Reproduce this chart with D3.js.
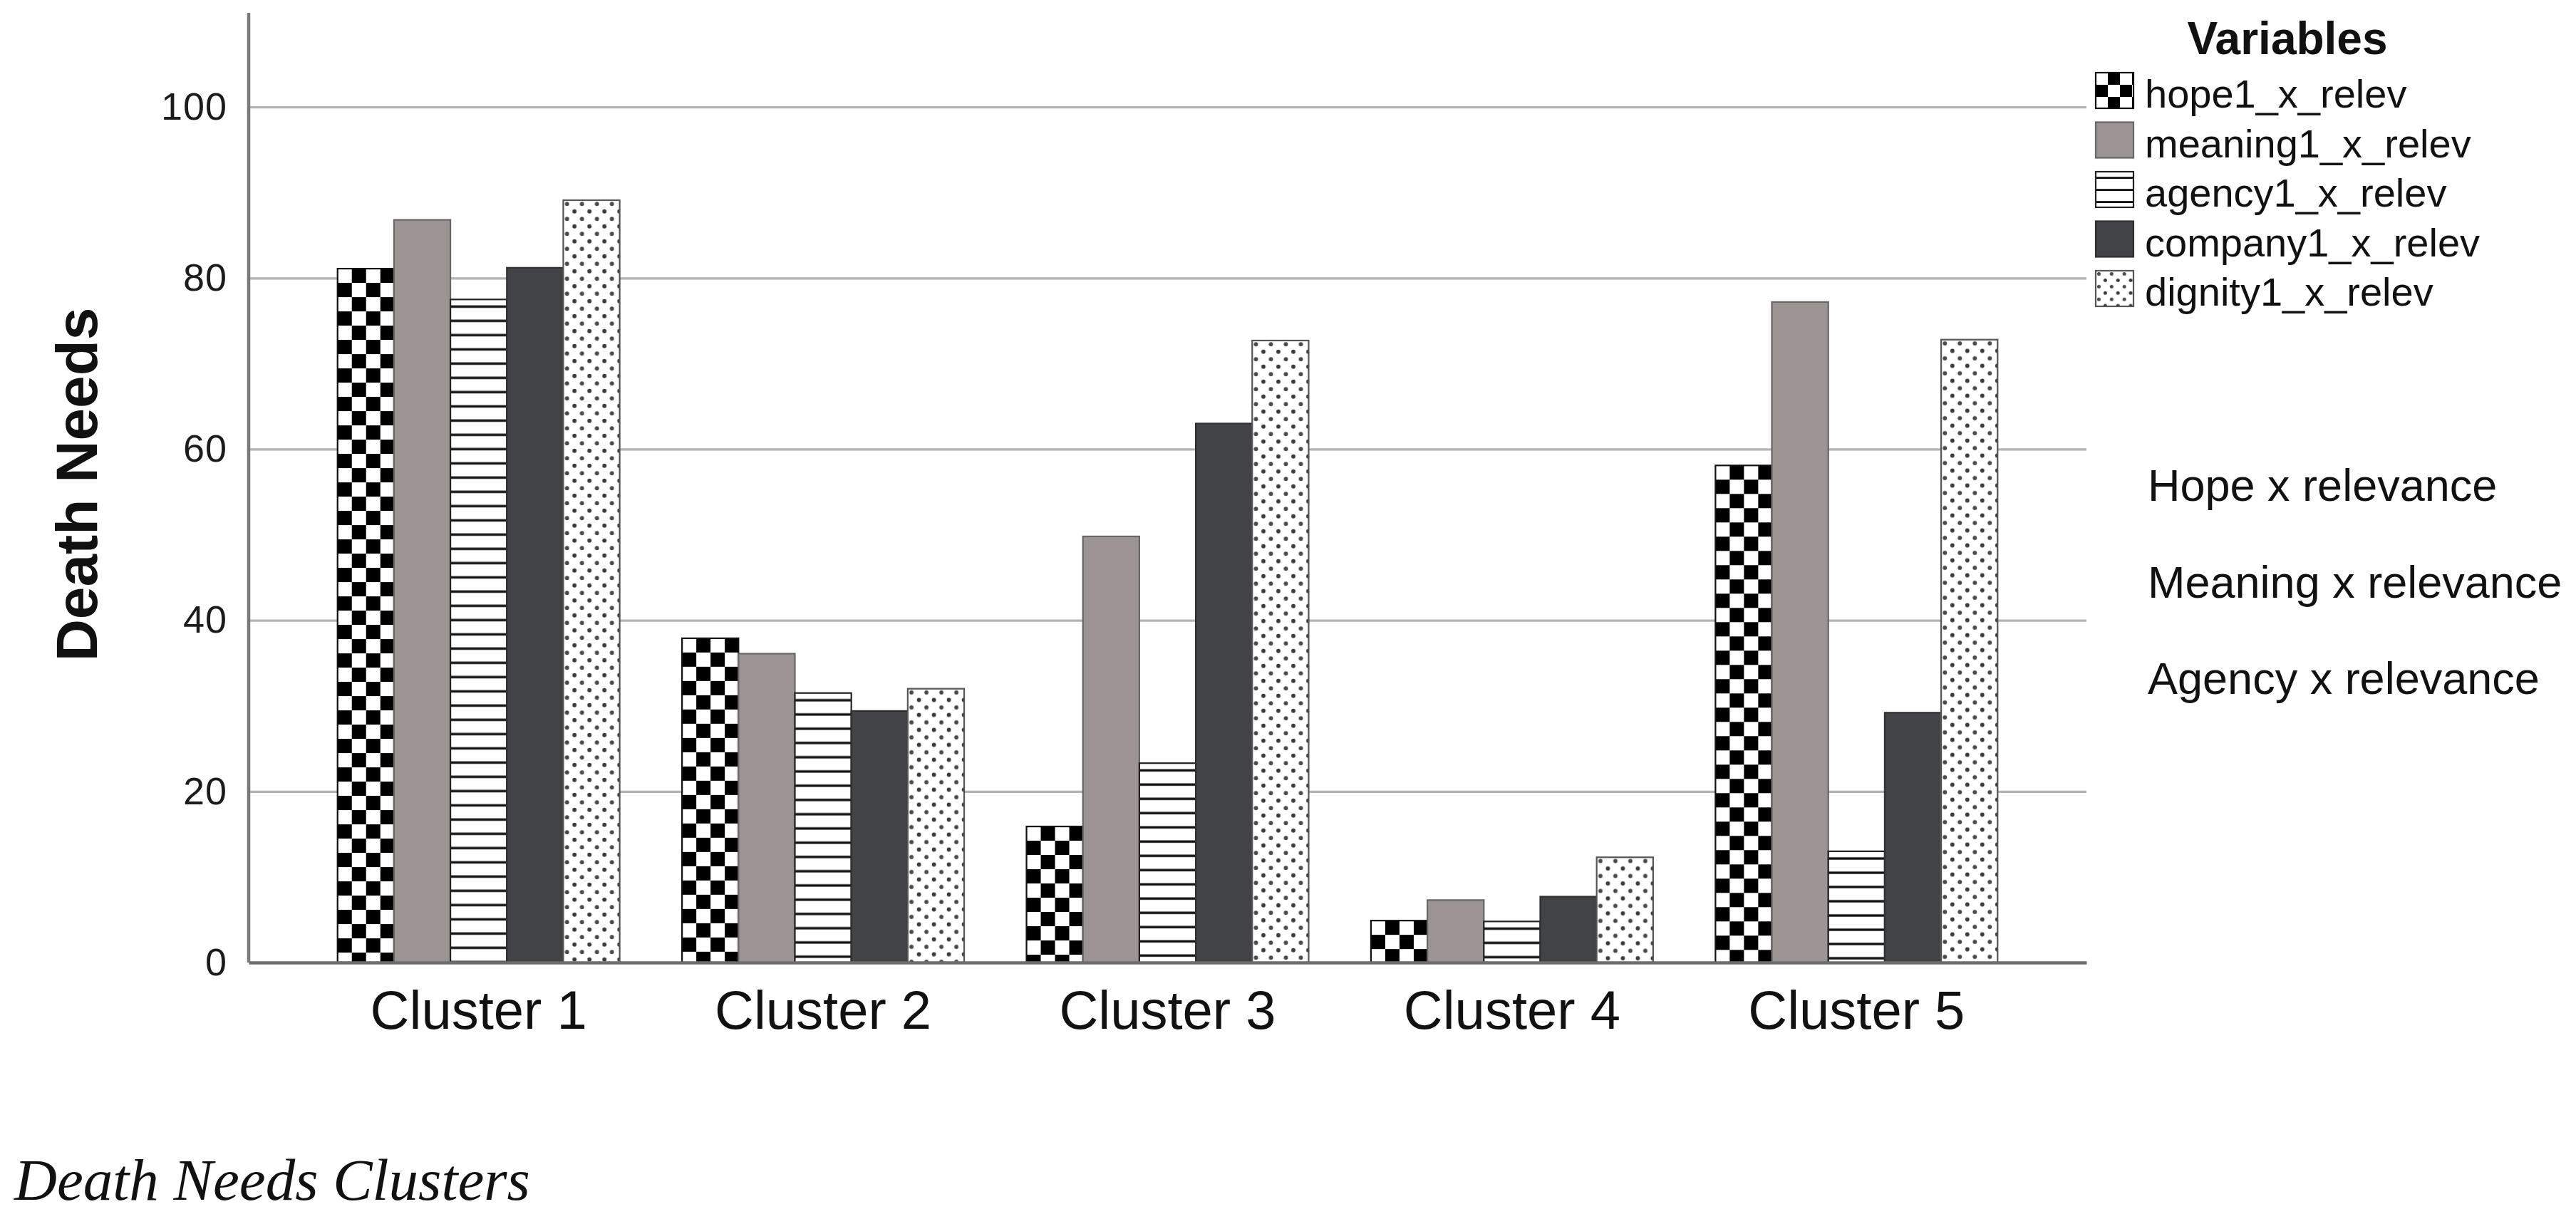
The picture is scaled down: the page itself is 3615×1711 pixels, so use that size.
<!DOCTYPE html>
<html>
<head>
<meta charset="utf-8">
<script src="https://cdn.jsdelivr.net/npm/d3@7"></script>
<style>
  html, body { margin: 0; padding: 0; background: #ffffff; }
  svg { display: block; }
</style>
</head>
<body>
<script>
// ---------- data ----------
const categories = ["Cluster 1", "Cluster 2", "Cluster 3", "Cluster 4", "Cluster 5"];
const seriesNames = ["hope1_x_relev", "meaning1_x_relev", "agency1_x_relev", "company1_x_relev", "dignity1_x_relev"];
const hope    = [81.1, 37.9, 15.9, 4.9, 58.1];
const meaning = [86.8, 36.1, 49.8, 7.3, 77.2];
const agency  = [77.5, 31.5, 23.3, 4.8, 13.0];
const company = [81.2, 29.4, 63.0, 7.7, 29.2];
const dignity = [89.1, 32.0, 72.7, 12.3, 72.8];
const yTicks = [0, 20, 40, 60, 80, 100];
const yMax = 111;
const legendTitle = "Variables";
const yTitle = "Death Needs";
const annotations = ["Hope x relevance", "Meaning x relevance", "Agency x relevance"];
const caption = "Death Needs Clusters";

const seriesValues = [hope, meaning, agency, company, dignity];
const table = categories.map((c, i) => ({
  category: c,
  values: seriesNames.map((s, j) => ({ series: s, idx: j, value: seriesValues[j][i] }))
}));

// ---------- layout ----------
const W = 3615, H = 1711;
const plot = { left: 349, right: 2928, top: 18, bottom: 1351 };

const svg = d3.select("body").append("svg")
  .attr("width", W).attr("height", H)
  .attr("viewBox", `0 0 ${W} ${H}`);
svg.append("rect").attr("width", W).attr("height", H).attr("fill", "#ffffff");

const defs = svg.append("defs");

function makePatterns(prefix, cell) {
  // checkerboard
  const ck = defs.append("pattern").attr("id", prefix + "checker")
    .attr("patternUnits", "userSpaceOnUse").attr("width", cell * 2).attr("height", cell * 2);
  ck.append("rect").attr("width", cell * 2).attr("height", cell * 2).attr("fill", "#ffffff");
  ck.append("rect").attr("x", cell).attr("y", 0).attr("width", cell).attr("height", cell).attr("fill", "#000000");
  ck.append("rect").attr("x", 0).attr("y", cell).attr("width", cell).attr("height", cell).attr("fill", "#000000");
  // horizontal lines
  const ln = defs.append("pattern").attr("id", prefix + "lines")
    .attr("patternUnits", "userSpaceOnUse").attr("width", cell).attr("height", cell);
  ln.append("rect").attr("width", cell).attr("height", cell).attr("fill", "#ffffff");
  ln.append("rect").attr("x", 0).attr("y", cell * 0.42).attr("width", cell).attr("height", Math.max(2.5, cell * 0.17)).attr("fill", "#111111");
  // dots
  const d = cell * 1.05;
  const dt = defs.append("pattern").attr("id", prefix + "dots")
    .attr("patternUnits", "userSpaceOnUse").attr("width", d).attr("height", d);
  dt.append("rect").attr("width", d).attr("height", d).attr("fill", "#ffffff");
  dt.append("circle").attr("cx", d * 0.25).attr("cy", d * 0.25).attr("r", d * 0.14).attr("fill", "#4a4a4a");
  dt.append("circle").attr("cx", d * 0.75).attr("cy", d * 0.75).attr("r", d * 0.14).attr("fill", "#3a3a3a");
}
makePatterns("bar-", 20);
makePatterns("leg-", 17);

const fills = (prefix) => [
  `url(#${prefix}checker)`, "#9b9493", `url(#${prefix}lines)`, "#414346", `url(#${prefix}dots)`
];
const strokes = ["#111111", "#6a6666", "#222222", "#2e3032", "#555555"];

// ---------- scales ----------
const x0 = d3.scaleBand().domain(categories)
  .range([plot.left, plot.right]).paddingInner(0.181).paddingOuter(0.258);
const x1 = d3.scaleBand().domain(seriesNames).range([0, x0.bandwidth()]).padding(0);
const y = d3.scaleLinear().domain([0, yMax]).range([plot.bottom, plot.top]);

// ---------- gridlines ----------
const grid = svg.append("g")
  .attr("transform", `translate(${plot.left},0)`)
  .call(d3.axisLeft(y).tickValues(yTicks.filter(t => t > 0)).tickSize(-(plot.right - plot.left)).tickFormat(""));
grid.select(".domain").remove();
grid.selectAll(".tick line").attr("stroke", "#b3b3b3").attr("stroke-width", 3.2);

// ---------- bars ----------
const groups = svg.append("g").selectAll("g.grp").data(table).join("g")
  .attr("class", "grp")
  .attr("transform", d => `translate(${x0(d.category)},0)`);

const barG = groups.selectAll("g.bar").data(d => d.values).join("g")
  .attr("class", "bar")
  .attr("transform", d => `translate(${x1(d.series)},${y(d.value)})`);
barG.append("rect")
  .attr("x", 0).attr("y", 0)
  .attr("width", x1.bandwidth())
  .attr("height", d => y(0) - y(d.value))
  .attr("fill", d => fills("bar-")[d.idx])
  .attr("stroke", d => strokes[d.idx])
  .attr("stroke-width", 2.2);

// ---------- axes ----------
const yAxis = svg.append("g")
  .attr("transform", `translate(${plot.left},0)`)
  .call(d3.axisLeft(y).tickValues(yTicks).tickSize(0).tickPadding(30).tickFormat(d3.format("d")));
yAxis.select(".domain").remove();
yAxis.selectAll(".tick text")
  .attr("font-family", "Liberation Sans, Arial, sans-serif")
  .attr("font-size", 54).attr("fill", "#1c1c1c")
  .attr("letter-spacing", 1);
svg.append("line")
  .attr("x1", plot.left).attr("x2", plot.left)
  .attr("y1", plot.top).attr("y2", plot.bottom)
  .attr("stroke", "#7a7a7a").attr("stroke-width", 4.5);

const xAxis = svg.append("g")
  .attr("transform", `translate(0,${plot.bottom})`)
  .call(d3.axisBottom(x0).tickSize(0).tickPadding(38));
xAxis.select(".domain").attr("stroke", "#6e6e6e").attr("stroke-width", 4.5);
xAxis.selectAll(".tick text")
  .attr("font-family", "Liberation Sans, Arial, sans-serif")
  .attr("font-size", 76).attr("fill", "#111111")
  .attr("dy", "0.72em");

// y title
svg.append("text")
  .attr("transform", `translate(136,680) rotate(-90)`)
  .attr("text-anchor", "middle")
  .attr("font-family", "Liberation Sans, Arial, sans-serif")
  .attr("font-weight", "bold").attr("font-size", 82).attr("fill", "#111111")
  .text(yTitle);

// ---------- legend ----------
const leg = svg.append("g");
leg.append("text")
  .attr("x", 3210).attr("y", 76)
  .attr("text-anchor", "middle")
  .attr("font-family", "Liberation Sans, Arial, sans-serif")
  .attr("font-weight", "bold").attr("font-size", 64).attr("fill", "#111111")
  .text(legendTitle);
const legItems = leg.selectAll("g.li").data(seriesNames).join("g")
  .attr("class", "li")
  .attr("transform", (d, i) => `translate(2941,${102 + i * 69.5})`);
legItems.append("rect")
  .attr("width", 53).attr("height", 50)
  .attr("fill", (d, i) => fills("leg-")[i])
  .attr("stroke", (d, i) => strokes[i]).attr("stroke-width", 2.2);
legItems.append("text")
  .attr("x", 69).attr("y", 49)
  .attr("font-family", "Liberation Sans, Arial, sans-serif")
  .attr("font-size", 56).attr("fill", "#111111")
  .text(d => d);

// ---------- annotations ----------
svg.append("g").selectAll("text").data(annotations).join("text")
  .attr("x", 3014).attr("y", (d, i) => 703 + i * 135.5)
  .attr("font-family", "Liberation Sans, Arial, sans-serif")
  .attr("font-size", 63).attr("fill", "#111111")
  .text(d => d);

// ---------- caption ----------
svg.append("text")
  .attr("x", 20).attr("y", 1684)
  .attr("font-family", "Liberation Serif, 'Times New Roman', serif")
  .attr("font-style", "italic").attr("font-size", 83).attr("fill", "#111111")
  .text(caption);
</script>
</body>
</html>
